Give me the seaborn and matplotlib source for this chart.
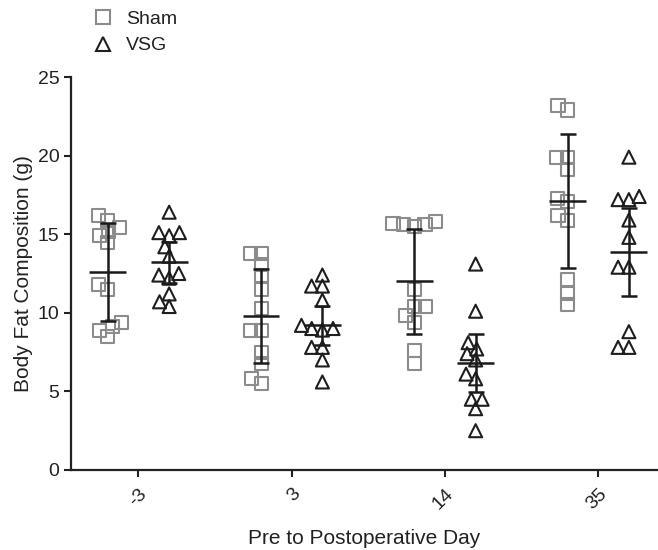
import numpy as np
import pandas as pd
import matplotlib
matplotlib.use("Agg")
import matplotlib.pyplot as plt
import seaborn as sns
from matplotlib.lines import Line2D

# ===================== Data =====================
days = ["-3", "3", "14", "35"]
groups = ["Sham", "VSG"]

sham_day_m3 = [16.2, 15.9, 15.4, 15.2, 14.9, 14.5, 11.8, 11.5, 9.4, 9.1, 8.9, 8.5]
sham_day_3 = [13.8, 13.8, 13.1, 12.4, 11.5, 10.3, 8.9, 8.9, 7.5, 6.8, 5.8, 5.5]
sham_day_14 = [15.8, 15.7, 15.6, 15.6, 15.5, 11.5, 10.4, 10.4, 9.8, 9.4, 7.6, 6.8]
sham_day_35 = [23.2, 22.9, 19.9, 19.9, 19.1, 17.3, 17.1, 16.2, 15.9, 12.1, 11.2, 10.5]

vsg_day_m3 = [16.4, 15.1, 15.1, 14.9, 14.2, 13.6, 12.5, 12.4, 12.2, 11.2, 10.7, 10.4]
vsg_day_3 = [12.4, 11.7, 11.7, 10.8, 9.2, 9.0, 9.0, 8.9, 7.8, 7.8, 7.0, 5.6]
vsg_day_14 = [13.1, 10.1, 8.1, 7.7, 7.4, 7.0, 6.1, 5.8, 4.5, 4.5, 3.9, 2.5]
vsg_day_35 = [19.9, 17.4, 17.2, 17.2, 15.9, 14.8, 12.9, 12.9, 8.8, 7.8, 7.8]

# mean and error bar half-length as drawn in the figure
sham_mean = [12.6, 9.8, 12.0, 17.1]
sham_err = [3.1, 3.0, 3.35, 4.25]
vsg_mean = [13.2, 9.2, 6.8, 13.85]
vsg_err = [1.3, 1.25, 1.85, 2.8]

# ===================== Long table =====================
rows = []
for grp, series in [("Sham", [sham_day_m3, sham_day_3, sham_day_14, sham_day_35]),
                    ("VSG", [vsg_day_m3, vsg_day_3, vsg_day_14, vsg_day_35])]:
    for day, vals in zip(days, series):
        for v in vals:
            rows.append({"Day": day, "Group": grp, "Fat": v})
df = pd.DataFrame(rows)

# ===================== Style =====================
sns.set_style("white")
plt.rcParams.update({
    "font.family": ["Liberation Sans", "DejaVu Sans"],
    "font.size": 14,
    "text.color": "#222222",
    "axes.labelcolor": "#222222",
    "xtick.color": "#222222",
    "ytick.color": "#222222",
})

sham_color = "#8c8c8c"
vsg_color = "#1e1e1e"
bar_color = "#1a1a1a"
palette = {"Sham": sham_color, "VSG": vsg_color}
marker_size = 9.4

fig = plt.figure(figsize=(6.58, 5.5), dpi=100)
ax = fig.add_axes([0.108, 0.1455, 0.892, 0.7145])

# swarm laid out with smaller markers so the points overlap a bit (like Prism)
for grp, mk in [("Sham", "s"), ("VSG", "^")]:
    sns.swarmplot(
        data=df[df["Group"] == grp], x="Day", y="Fat", hue="Group",
        order=days, hue_order=groups, palette=palette,
        dodge=True, marker=mk, size=7.4, legend=False, ax=ax, zorder=3,
    )

ax.set_xlim(-0.44, 3.39)
ax.set_ylim(0, 25)
fig.canvas.draw()  # fixes the swarm positions

# freeze positions, then switch to big open markers
for coll in ax.collections:
    if "draw" in coll.__dict__:
        del coll.draw
    fc = coll.get_facecolors()
    coll.set_edgecolors(fc)
    coll.set_facecolors("none")
    coll.set_linewidths(1.5)
    coll.set_sizes([marker_size ** 2])

# mean +/- error bars
xs = np.arange(len(days))
for off, m, e in [(-0.2, sham_mean, sham_err), (0.2, vsg_mean, vsg_err)]:
    ax.errorbar(xs + off, m, yerr=e, fmt="none", ecolor=bar_color,
                elinewidth=1.8, capsize=6, capthick=1.8, zorder=5)
    ax.hlines(m, xs + off - 0.12, xs + off + 0.12, colors=bar_color,
              linewidth=1.8, zorder=5)

# ===================== Axes =====================
ax.set_xlim(-0.44, 3.39)
ax.set_ylim(0, 25)
ax.set_yticks(np.arange(0, 26, 5))
ax.set_xticks(xs)
ax.set_xticklabels(days, rotation=45, ha="right", rotation_mode="anchor")
for s in ["top", "right"]:
    ax.spines[s].set_visible(False)
for s in ["left", "bottom"]:
    ax.spines[s].set_linewidth(1.6)
    ax.spines[s].set_color("#222222")
ax.tick_params(axis="both", direction="out", length=5, width=1.5,
               labelsize=14, left=True, bottom=True)
ax.tick_params(axis="x", pad=6)
ax.set_xlabel("Pre to Postoperative Day", fontsize=15, labelpad=12)
ax.set_ylabel("Body Fat Composition (g)", fontsize=15, labelpad=3)

handles = [
    Line2D([], [], linestyle="none", marker="s", markersize=marker_size,
           markerfacecolor="none", markeredgecolor=sham_color, markeredgewidth=1.5),
    Line2D([], [], linestyle="none", marker="^", markersize=marker_size,
           markerfacecolor="none", markeredgecolor=vsg_color, markeredgewidth=1.5),
]
fig.legend(handles, groups, loc="upper left", bbox_to_anchor=(0.13, 0.995),
           frameon=False, fontsize=14, handlelength=1.0, handletextpad=0.7,
           labelspacing=0.45, borderaxespad=0)

fig.savefig("out.png", dpi=100, facecolor="white")
